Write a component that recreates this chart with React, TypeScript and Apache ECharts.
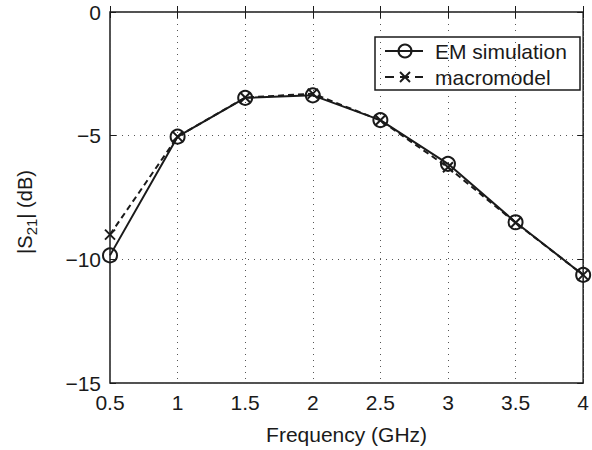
import React, { useEffect, useRef } from "react";
import * as echarts from "echarts";

const freqs = [0.5, 1, 1.5, 2, 2.5, 3, 3.5, 4];
const emSimulation = [-9.84, -5.04, -3.47, -3.37, -4.37, -6.14, -8.5, -10.63];
const macromodel = [-9.0, -5.04, -3.46, -3.3, -4.38, -6.28, -8.52, -10.63];
const xTicks = [0.5, 1, 1.5, 2, 2.5, 3, 3.5, 4];
const yTicks = [0, -5, -10, -15];

const FONT = "Liberation Sans, Arial, Helvetica, sans-serif";
const INK = "#1a1a1a";
const xMark = "path://M0,0L10,10M10,0L0,10";

const fmtY = (v: number) => (v < 0 ? "\u2212" + Math.abs(v) : String(v));

export default function App() {
  const ref = useRef<HTMLDivElement>(null);
  useEffect(() => {
    const chart = echarts.init(ref.current!, null, { renderer: "svg" });
    const toPairs = (ys: number[]) => freqs.map((f, i) => [f, ys[i]]);
    const commonX = { type: "value", min: 0.5, max: 4, interval: 0.5 };
    const commonY = { type: "value", min: -15, max: 0, interval: 5 };
    const tick = { show: true, inside: true, length: 6, lineStyle: { color: INK, width: 1 } };
    const grid = { show: true, lineStyle: { color: "#555", type: [1, 5], width: 1 } };
    chart.setOption({
      animation: false,
      backgroundColor: "#fff",
      textStyle: { fontFamily: FONT },
      grid: {
        left: 110,
        right: 8,
        top: 12,
        bottom: 65,
        show: true,
        borderColor: INK,
        borderWidth: 1.5,
        backgroundColor: "transparent",
      },
      xAxis: [
        {
          ...commonX,
          position: "bottom",
          axisLine: { show: false },
          axisTick: tick,
          axisLabel: {
            color: INK,
            fontSize: 21,
            fontFamily: FONT,
            margin: 9,
            formatter: (v: number) => (xTicks.includes(v) ? String(v) : ""),
          },
          splitLine: grid,
          name: "Frequency (GHz)",
          nameLocation: "middle",
          nameGap: 41,
          nameTextStyle: { color: INK, fontSize: 21, fontFamily: FONT },
        },
        {
          ...commonX,
          position: "top",
          axisLine: { show: false },
          axisTick: tick,
          axisLabel: { show: false },
          splitLine: { show: false },
        },
      ],
      yAxis: [
        {
          ...commonY,
          position: "left",
          axisLine: { show: false },
          axisTick: tick,
          axisLabel: {
            color: INK,
            fontSize: 21,
            fontFamily: FONT,
            margin: 9,
            formatter: (v: number) => (yTicks.includes(v) ? fmtY(v) : ""),
          },
          splitLine: grid,
        },
        {
          ...commonY,
          position: "right",
          axisLine: { show: false },
          axisTick: tick,
          axisLabel: { show: false },
          splitLine: { show: false },
        },
      ],
      series: [
        {
          name: "EM simulation",
          type: "line",
          data: toPairs(emSimulation),
          symbol: "circle",
          symbolSize: 14,
          showAllSymbol: true,
          lineStyle: { color: INK, width: 2 },
          itemStyle: { color: "transparent", borderColor: INK, borderWidth: 2 },
          z: 3,
        },
        {
          name: "macromodel",
          type: "line",
          data: toPairs(macromodel),
          symbol: xMark,
          symbolSize: 10,
          showAllSymbol: true,
          lineStyle: { color: INK, width: 2, type: [6, 4] },
          itemStyle: { color: "transparent", borderColor: INK, borderWidth: 2 },
          z: 4,
        },
      ],
      graphic: [
        {
          type: "text",
          x: 25,
          y: 212,
          rotation: Math.PI / 2,
          style: {
            text: "{a||S}{sub|21}{a|| (dB)}",
            align: "center",
            verticalAlign: "middle",
            fill: INK,
            rich: {
              a: { fontSize: 20, fontFamily: FONT, fill: INK, color: INK },
              sub: { fontSize: 15, fontFamily: FONT, fill: INK, color: INK, padding: [12, 0, 0, 0] },
            },
          },
        },
        {
          type: "group",
          x: 375,
          y: 37,
          children: [
            {
              type: "rect",
              shape: { x: 0, y: 0, width: 205, height: 53 },
              style: { fill: "#fff", stroke: INK, lineWidth: 1.5 },
            },
            {
              type: "line",
              shape: { x1: 10, y1: 14, x2: 48, y2: 14 },
              style: { stroke: INK, lineWidth: 2 },
            },
            {
              type: "circle",
              shape: { cx: 30, cy: 14, r: 6.5 },
              style: { fill: "none", stroke: INK, lineWidth: 2 },
            },
            {
              type: "text",
              x: 60,
              y: 14,
              style: { text: "EM simulation", font: "21px " + FONT, fill: INK, verticalAlign: "middle" },
            },
            {
              type: "line",
              shape: { x1: 10, y1: 40, x2: 48, y2: 40 },
              style: { stroke: INK, lineWidth: 2, lineDash: [9, 6] },
            },
            {
              type: "line",
              shape: { x1: 25, y1: 35, x2: 35, y2: 45 },
              style: { stroke: INK, lineWidth: 2 },
            },
            {
              type: "line",
              shape: { x1: 35, y1: 35, x2: 25, y2: 45 },
              style: { stroke: INK, lineWidth: 2 },
            },
            {
              type: "text",
              x: 60,
              y: 40,
              style: { text: "macromodel", font: "21px " + FONT, fill: INK, verticalAlign: "middle" },
            },
          ],
        },
      ],
    });
    return () => chart.dispose();
  }, []);
  return <div ref={ref} style={{ width: 592, height: 450, position: "absolute", left: 0, top: 0 }} />;
}
